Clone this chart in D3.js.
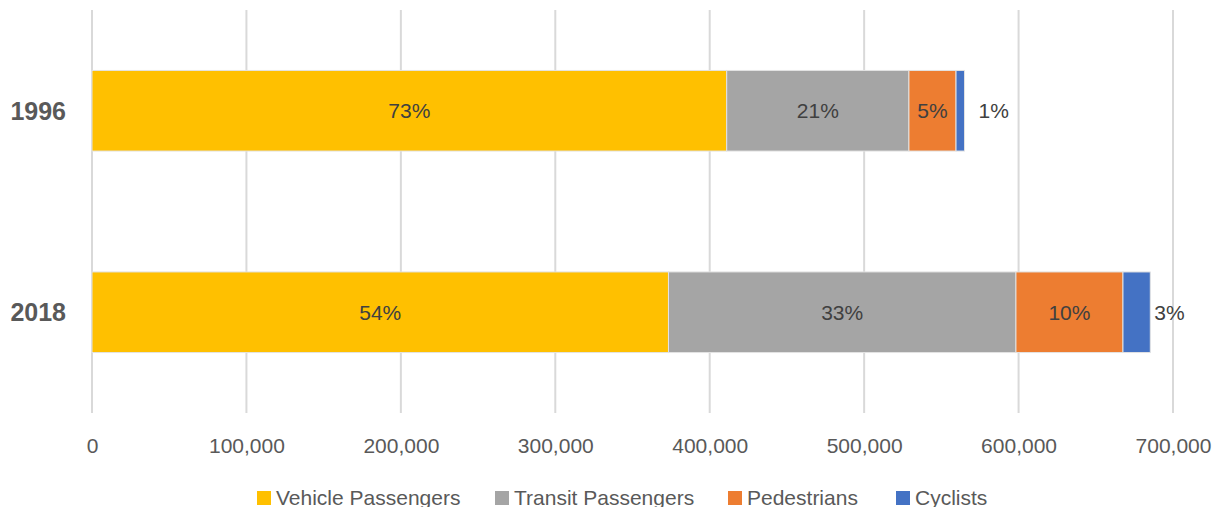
<!DOCTYPE html>
<html>
<head>
<meta charset="utf-8">
<script src="https://cdn.jsdelivr.net/npm/d3@7"></script>
<style>
  body { margin: 0; background: #fff; }
  svg { display: block; font-family: "Liberation Sans", Arial, sans-serif; }
</style>
</head>
<body>
<svg id="chart" width="1220" height="507"></svg>
<script>
// データ
var years = ["1996", "2018"];
var seriesNames = ["Vehicle Passengers", "Transit Passengers", "Pedestrians", "Cyclists"];
var vehicle = [411000, 373300];
var transit = [118000, 225000];
var pedestrians = [30500, 69300];
var cyclists = [5500, 17700];
var tickValues = [0, 100000, 200000, 300000, 400000, 500000, 600000, 700000];

var colors = ["#ffc000", "#a5a5a5", "#ed7d31", "#4472c4"];

// テーブルを組み立てる
var rows = years.map(function(y, i){
    return { year: y, "Vehicle Passengers": vehicle[i], "Transit Passengers": transit[i],
             "Pedestrians": pedestrians[i], "Cyclists": cyclists[i] };
});
var stacked = d3.stack().keys(seriesNames)(rows);

var svg = d3.select("#chart");

var x = d3.scaleLinear().domain([0, 700000]).range([92, 1173]);
var y = d3.scaleBand().domain(years).range([10, 413]).paddingInner(0.6).paddingOuter(0.3);

// グリッド線
svg.append("g")
    .selectAll("line")
    .data(tickValues)
    .join("line")
    .attr("x1", function(d){ return x(d); })
    .attr("x2", function(d){ return x(d); })
    .attr("y1", 10)
    .attr("y2", 413)
    .attr("stroke", "#d9d9d9")
    .attr("stroke-width", 2);

// 横軸の目盛
var xAxis = svg.append("g")
    .attr("transform", "translate(0,413)")
    .call(d3.axisBottom(x).tickValues(tickValues).tickFormat(d3.format(",")).tickSize(0).tickPadding(0));
xAxis.select(".domain").remove();
xAxis.selectAll("text")
    .attr("y", 40)
    .attr("dy", 0)
    .attr("fill", "#595959")
    .style("font-size", "21px")
    .style("font-family", "Liberation Sans, Arial, sans-serif");

// 縦軸 (年)
var yAxis = svg.append("g")
    .attr("transform", "translate(66,0)")
    .call(d3.axisLeft(y).tickSize(0).tickPadding(0));
yAxis.select(".domain").remove();
yAxis.selectAll("text")
    .attr("dy", "0.35em")
    .attr("fill", "#595959")
    .style("font-size", "25px")
    .style("font-weight", "bold")
    .style("font-family", "Liberation Sans, Arial, sans-serif");

// 積み上げ棒
var groups = svg.append("g")
    .selectAll("g")
    .data(stacked)
    .join("g")
    .attr("fill", function(d, i){ return colors[i]; });

groups.selectAll("rect")
    .data(function(d){ return d; })
    .join("rect")
    .attr("x", function(d){ return x(d[0]); })
    .attr("y", function(d){ return y(d.data.year); })
    .attr("width", function(d){ return x(d[1]) - x(d[0]); })
    .attr("height", y.bandwidth())
    .attr("stroke", "#e3e3e3")
    .attr("stroke-width", 1);

// データラベル
var totals = rows.map(function(r){
    return d3.sum(seriesNames, function(k){ return r[k]; });
});
var outsideGap = [14, 4]; // 自転車ラベルのずらし

stacked.forEach(function(series, si){
    svg.append("g")
        .selectAll("text")
        .data(series)
        .join("text")
        .attr("x", function(d, i){
            if (si === 3) return x(d[1]) + outsideGap[i];
            return (x(d[0]) + x(d[1])) / 2;
        })
        .attr("y", function(d){ return y(d.data.year) + y.bandwidth() / 2; })
        .attr("dy", "0.35em")
        .attr("text-anchor", si === 3 ? "start" : "middle")
        .attr("fill", "#404040")
        .style("font-size", "21px")
        .text(function(d, i){ return Math.round((d[1] - d[0]) / totals[i] * 100) + "%"; });
});

// 凡例
var legendX = [257, 495, 728, 896];
var legend = svg.append("g")
    .selectAll("g")
    .data(seriesNames)
    .join("g")
    .attr("transform", function(d, i){ return "translate(" + legendX[i] + ",0)"; });

legend.append("rect")
    .attr("x", 0)
    .attr("y", 491)
    .attr("width", 14)
    .attr("height", 14)
    .attr("fill", function(d, i){ return colors[i]; });

legend.append("text")
    .attr("x", 19)
    .attr("y", 505)
    .attr("fill", "#595959")
    .style("font-size", "21px")
    .text(function(d){ return d; });
</script>
</body>
</html>
